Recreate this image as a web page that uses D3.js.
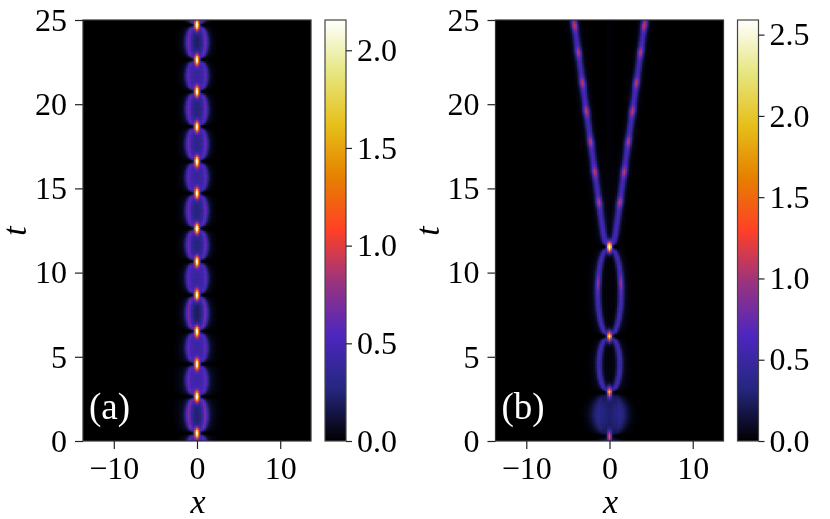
<!DOCTYPE html>
<html><head><meta charset="utf-8">
<script src="https://cdn.jsdelivr.net/npm/d3@7"></script>
<style>
html,body{margin:0;padding:0;background:#fff;}
#wrap{position:relative;width:830px;height:519px;overflow:hidden;}
canvas,svg{position:absolute;left:0;top:0;}
text{font-family:"Liberation Serif","DejaVu Serif",serif;}
</style></head><body>
<div id="wrap"><canvas id="cv" width="830" height="519"></canvas><svg id="sv" width="830" height="519"></svg></div>
<script>
// ---------- axes / ticks ----------
const xRange = [-13.7, 13.7];
const tRange = [0, 25];
const xTicks = [-10, 0, 10];
const tTicks = [0, 5, 10, 15, 20, 25];
const cbTicksA = [0, 0.5, 1.0, 1.5, 2.0];
const cbTicksB = [0, 0.5, 1.0, 1.5, 2.0, 2.5];
const vmaxA = 2.155;
const vmaxB = 2.59;

// ---------- colormap (CMRmap) ----------
const cmapStops = [0, 0.125, 0.25, 0.375, 0.5, 0.625, 0.75, 0.875, 1];
const cmapColors = ["rgb(0,0,0)", "rgb(38,38,128)", "rgb(77,38,191)", "rgb(153,51,128)",
  "rgb(255,64,38)", "rgb(230,128,0)", "rgb(230,191,26)", "rgb(230,230,128)", "rgb(255,255,255)"];

// ---------- panel (a): periodic breather ----------
const peakTimesA = [0.5, 2.67, 4.6, 6.55, 8.7, 10.7, 12.65, 14.74, 16.64, 18.7, 20.78, 22.68, 24.74];
const peakAmpA   = [2.0, 2.05, 2.0, 2.1, 2.05, 2.0, 2.05, 2.0, 2.1, 2.0, 2.05, 2.0, 2.15];
const ringEdgesA = [-1.6, 0.5, 2.67, 4.6, 6.55, 8.7, 10.7, 12.65, 14.74, 16.64, 18.7, 20.78, 22.68, 24.74, 26.8];
const ringFillA  = [0.6, 0.35, 0.8, 0.8, 0.35, 0.8, 0.5, 0.5, 0.8, 0.6, 0.5, 0.8, 0.4, 0.6];
const ringAmpA   = [0.52, 0.58, 0.5, 0.5, 0.58, 0.5, 0.54, 0.54, 0.5, 0.54, 0.54, 0.5, 0.56, 0.52];
const ringHalfWidthA = 0.98;
const hazeAmpA = 0.045;

// ---------- panel (b): splitting breather ----------
const peakTimesB = [0.3, 2.93, 6.25, 11.55];
const peakAmpB   = [1.35, 1.75, 1.95, 2.59];
const lensStartB = [-2.3, 0.3, 2.93, 6.25];
const lensEndB   = [0.3, 2.93, 6.25, 11.55];
const lensWidthB = [1.1, 1.2, 1.22, 1.38];
const lensSigB   = [0.95, 1.05, 0.36, 0.36];
const lensFillB  = [0.8, 0.7, 0.06, 0.04];
const lensAmpB   = [0.28, 0.3, 0.55, 0.57];
const lensEnvB   = [1.0, 1.0, 0, 0];
const lensHotTB  = [null, null, null, 9.4];
const branchT = [11.55, 11.75, 12.0, 12.35, 25];
const branchX = [0.0, 0.42, 0.58, 0.74, 4.27];
const branchAmpB = 0.56;
const dashTimesB = [14.2, 16.0, 17.8, 19.6, 21.3, 23.1, 24.7];
const dashAmpB = 0.5;
const ghostAmpB = 0.02;

function spot(x, t, tp, A) {
  return A * Math.exp(-(x * x) / 0.06) * Math.exp(-((t - tp) * (t - tp)) / 0.1);
}
function notch(x, t, peaks) {
  let f = 1;
  for (const tp of peaks) {
    const g = Math.exp(-((t - tp) * (t - tp)) / 0.02);
    f *= 1 - 0.97 * g * (1 - Math.exp(-(x * x) / 0.1));
  }
  return f;
}
function lens(x, t, t1, t2, w, sig, fill, amp, env, glow) {
  if (t < t1 || t > t2) return 0;
  const s = (t - t1) / (t2 - t1);
  const shape = 2 * Math.sqrt(s * (1 - s));
  const xc = w * shape;
  const se = 0.3 + (sig - 0.3) * shape;
  const d = Math.abs(x) - xc;
  let v = Math.exp(-(d * d) / (se * se));
  if (d < 0) v = fill + (1 - fill) * v;
  else v += glow * Math.exp(-(d * d) / 1.0);
  return amp * v * Math.pow(shape, env);
}
function fieldA(x, t) {
  let v = 0;
  for (let i = 0; i < ringFillA.length; i++)
    v += lens(x, t, ringEdgesA[i], ringEdgesA[i + 1], ringHalfWidthA, 0.4, ringFillA[i], ringAmpA[i], 0, 0.2);
  v += hazeAmpA * Math.exp(-(x * x) / 6) * Math.exp(-((t - 3) * (t - 3)) / 12);
  v *= notch(x, t, peakTimesA);
  for (let i = 0; i < peakTimesA.length; i++) v += spot(x, t, peakTimesA[i], peakAmpA[i]);
  return v;
}
const branchScale = d3.scaleLinear().domain(branchT).range(branchX);
function fieldB(x, t) {
  let v = 0;
  for (let i = 0; i < lensStartB.length; i++) {
    let lv = lens(x, t, lensStartB[i], lensEndB[i], lensWidthB[i], lensSigB[i], lensFillB[i], lensAmpB[i], lensEnvB[i], 0.15);
    if (lensHotTB[i] !== null && t >= lensStartB[i] && t <= lensEndB[i]) {
      const s = (t - lensStartB[i]) / (lensEndB[i] - lensStartB[i]);
      const xc = lensWidthB[i] * 2 * Math.sqrt(s * (1 - s));
      const d = Math.abs(x) - xc;
      lv += 0.35 * Math.exp(-((t - lensHotTB[i]) ** 2) / 0.2) * Math.exp(-(d * d) / 0.06);
    }
    v += lv;
  }
  if (t >= branchT[0]) {
    const xc = branchScale(t);
    const d = Math.abs(x) - xc;
    let a = branchAmpB;
    for (const td of dashTimesB) a += dashAmpB * Math.exp(-((t - td) ** 2) / 0.09);
    v += a * Math.exp(-(d * d) / 0.13) + 0.06 * Math.exp(-(d * d) / 0.8);
    v += ghostAmpB * Math.exp(-(x * x) / 0.5) * (1 - Math.exp(-((t - branchT[0]) ** 2) / 1));
  }
  v += 0.04 * Math.exp(-(x * x) / 8) * Math.exp(-((t - 1.5) ** 2) / 4);
  v *= notch(x, t, peakTimesB);
  for (let i = 0; i < peakTimesB.length; i++) v += spot(x, t, peakTimesB[i], peakAmpB[i]);
  return v;
}

// ---------- layout ----------
const plotTop = 20, plotBottom = 441;
const panels = [
  {left: 83, right: 311, cbLeft: 325, cbRight: 346, vmax: vmaxA, field: fieldA, label: "(a)", cbTicks: cbTicksA, tLabelX: 16, id: "a"},
  {left: 495.5, right: 723.5, cbLeft: 737.5, cbRight: 758.5, vmax: vmaxB, field: fieldB, label: "(b)", cbTicks: cbTicksB, tLabelX: 429, id: "b"}
];

const ctx = document.getElementById("cv").getContext("2d");
const svg = d3.select("#sv");
const defs = svg.append("defs");
const dx = 0.2, dt = 0.1;
const nx = Math.round((xRange[1] - xRange[0]) / dx);
const nt = Math.round((tRange[1] - tRange[0]) / dt);

panels.forEach(p => {
  const xs = d3.scaleLinear().domain(xRange).range([p.left, p.right]);
  const ys = d3.scaleLinear().domain(tRange).range([plotBottom, plotTop]);
  const color = d3.scaleLinear().domain(cmapStops.map(s => s * p.vmax)).range(cmapColors).clamp(true);

  // heatmap cells
  ctx.save();
  ctx.beginPath();
  ctx.rect(p.left, plotTop, p.right - p.left, plotBottom - plotTop);
  ctx.clip();
  ctx.fillStyle = "#000";
  ctx.fillRect(p.left, plotTop, p.right - p.left, plotBottom - plotTop);
  for (let i = 0; i < nx; i++) {
    const xc = xRange[0] + (i + 0.5) * dx;
    const x0 = xs(xc - dx / 2), x1 = xs(xc + dx / 2);
    for (let j = 0; j < nt; j++) {
      const tc = tRange[0] + (j + 0.5) * dt;
      const val = p.field(xc, tc);
      const y0 = ys(tc + dt / 2), y1 = ys(tc - dt / 2);
      ctx.fillStyle = color(val);
      ctx.fillRect(x0, y0, x1 - x0 + 0.6, y1 - y0 + 0.6);
    }
  }
  ctx.restore();

  // axes
  const g = svg.append("g");
  const xAxis = d3.axisBottom(xs).tickValues(xTicks).tickSize(8).tickPadding(7).tickFormat(d3.format("d"));
  const yAxis = d3.axisLeft(ys).tickValues(tTicks).tickSize(8).tickPadding(8).tickFormat(d3.format("d"));
  const gx = g.append("g").attr("transform", `translate(0,${plotBottom})`).call(xAxis);
  const gy = g.append("g").attr("transform", `translate(${p.left},0)`).call(yAxis);
  [gx, gy].forEach(a => {
    a.select(".domain").remove();
    a.selectAll(".tick line").attr("stroke", "#222").attr("stroke-width", 1.2);
    a.selectAll(".tick text").attr("font-size", 32).attr("fill", "#000")
      .attr("font-family", '"Liberation Serif", serif');
  });
  g.append("rect").attr("x", p.left).attr("y", plotTop).attr("width", p.right - p.left)
    .attr("height", plotBottom - plotTop).attr("fill", "none").attr("stroke", "#333").attr("stroke-width", 1.2);

  // labels
  g.append("text").attr("x", (p.left + p.right) / 2 + 1).attr("y", 513).attr("text-anchor", "middle")
    .attr("font-size", 34).attr("font-style", "italic").text("x");
  g.append("text").attr("transform", `translate(${p.tLabelX + 10},231) rotate(-90)`).attr("text-anchor", "middle")
    .attr("font-size", 34).attr("font-style", "italic").text("t");
  g.append("text").attr("x", p.left + 6).attr("y", 419).attr("font-size", 37).attr("fill", "#fff").text(p.label);

  // colorbar
  const cs = d3.scaleLinear().domain([0, p.vmax]).range([plotBottom, plotTop]);
  const grad = defs.append("linearGradient").attr("id", "grad" + p.id)
    .attr("x1", 0).attr("y1", 1).attr("x2", 0).attr("y2", 0);
  cmapStops.forEach((s, k) => grad.append("stop").attr("offset", s).attr("stop-color", cmapColors[k]));
  g.append("rect").attr("x", p.cbLeft).attr("y", plotTop).attr("width", p.cbRight - p.cbLeft)
    .attr("height", plotBottom - plotTop).attr("fill", `url(#grad${p.id})`)
    .attr("stroke", "#444").attr("stroke-width", 1.2);
  const cAxis = d3.axisRight(cs).tickValues(p.cbTicks).tickSize(6).tickPadding(5).tickFormat(d3.format(".1f"));
  const gc = g.append("g").attr("transform", `translate(${p.cbRight},0)`).call(cAxis);
  gc.select(".domain").remove();
  gc.selectAll(".tick line").attr("stroke", "#222").attr("stroke-width", 1.2);
  gc.selectAll(".tick text").attr("font-size", 32).attr("fill", "#000")
    .attr("font-family", '"Liberation Serif", serif');
});
</script>
</body></html>
